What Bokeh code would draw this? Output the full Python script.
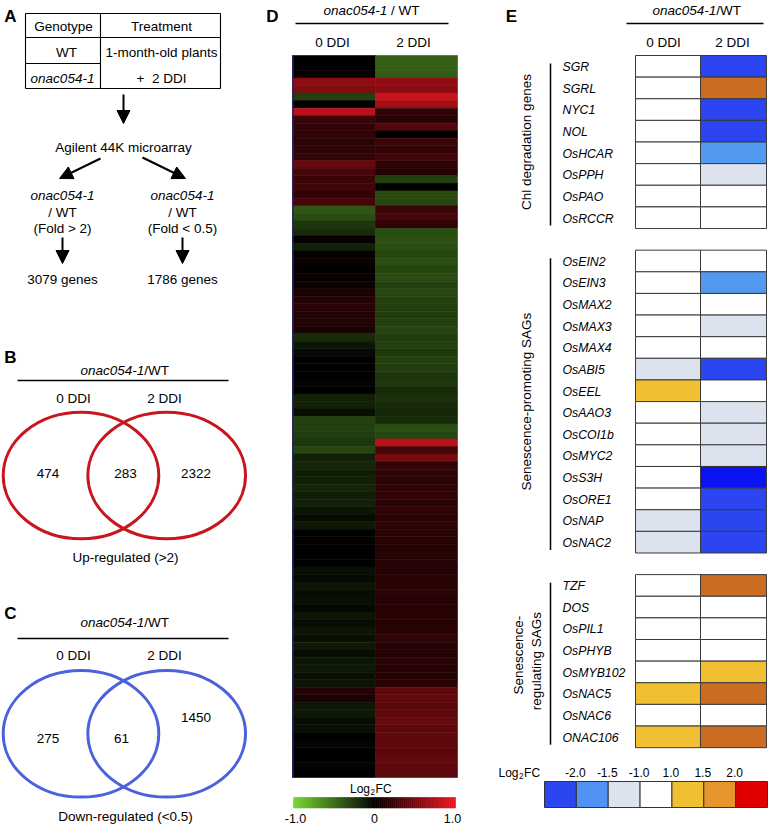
import numpy as np
from bokeh.plotting import figure
from bokeh.models import Range1d, Arrow, NormalHead, LinearColorMapper, ColumnDataSource
from bokeh.transform import transform
from bokeh.embed import file_html
from bokeh.resources import INLINE
from bokeh.core.properties import value

# ---------------- data ----------------
table_header = ["Genotype", "Treatment"]
genotypes = ["WT", "onac054-1"]
treatment = ["1-month-old plants", "+\u00a0 2 DDI"]
platform = "Agilent 44K microarray"
mutant = "onac054-1"
fold_rules = ["(Fold > 2)", "(Fold < 0.5)"]
selected_genes = [3079, 1786]
conditions = ["0 DDI", "2 DDI"]
venn_up = [474, 283, 2322]      # 0 DDI only, shared, 2 DDI only
venn_down = [275, 61, 1450]
venn_titles = ["Up-regulated (>2)", "Down-regulated (<0.5)"]

# Panel D: log2FC per gene cluster row (top to bottom)
heat_0ddi = [0.02, 0.0, 0.03, 0.6, 0.55, -0.3, 0.0, 0.8, 0.25, 0.2,
             0.22, 0.18, 0.2, 0.22, 0.45, 0.3, 0.25, 0.28, 0.22, 0.3,
             -0.4, -0.35, -0.25, -0.2, 0.02, -0.15, 0.03, 0.05, 0.0, 0.04,
             0.05, 0.12, 0.15, 0.18, 0.14, 0.16, 0.12, -0.2, -0.1, -0.05,
             0.0, 0.01, 0.0, -0.02, 0.0, -0.15, -0.15, -0.08, -0.3, -0.3,
             -0.28, -0.25, -0.32, -0.15, -0.18, -0.14, -0.15, -0.17, -0.14, -0.15,
             -0.1, -0.05, -0.12, 0.0, 0.02, 0.01, 0.02, 0.0, -0.08, -0.05,
             -0.1, -0.06, -0.08, -0.04, -0.1, -0.06, -0.1, -0.08, -0.12, -0.06,
             -0.1, -0.12, -0.08, -0.1, 0.15, 0.12, -0.1, -0.12, -0.06, -0.08,
             0.0, -0.03, 0.0, 0.01, -0.02, 0.0]
heat_2ddi = [-0.45, -0.45, -0.42, 0.6, 0.58, 0.85, 0.7, 0.2, 0.18, 0.35,
             0.02, 0.25, 0.22, 0.28, 0.2, 0.15, -0.3, 0.0, -0.35, -0.33,
             0.25, 0.3, 0.2, -0.35, -0.38, -0.35, -0.33, -0.36, -0.32, -0.35,
             -0.3, -0.33, -0.3, -0.3, -0.28, -0.3, -0.32, -0.28, -0.3, -0.27,
             -0.3, -0.28, -0.25, -0.27, -0.2, -0.22, -0.2, -0.18, -0.2, -0.35,
             -0.33, 0.8, 0.3, 0.5, 0.22, 0.2, 0.18, 0.2, 0.22, 0.18,
             0.2, 0.17, 0.2, 0.18, 0.17, 0.16, 0.18, 0.17, 0.15, 0.18,
             0.17, 0.19, 0.16, 0.17, 0.18, 0.16, 0.17, 0.2, 0.17, 0.16,
             0.18, 0.17, 0.16, 0.18, 0.4, 0.42, 0.38, 0.4, 0.43, 0.39,
             0.41, 0.4, 0.38, 0.42, 0.4, 0.39]
heat_ticks = [-1.0, 0.0, 1.0]
heat_tick_labels = ["-1.0", "0", "1.0"]

# Panel E
chl_genes = ["SGR", "SGRL", "NYC1", "NOL", "OsHCAR", "OsPPH", "OsPAO", "OsRCCR"]
chl_0ddi = [0.1, 0.2, -0.1, 0.0, -0.3, -0.2, 0.1, 0.0]
chl_2ddi = [-2.3, 1.8, -2.4, -2.3, -1.7, -1.2, -0.6, -0.4]

prom_genes = ["OsEIN2", "OsEIN3", "OsMAX2", "OsMAX3", "OsMAX4", "OsABI5", "OsEEL",
              "OsAAO3", "OsCOI1b", "OsMYC2", "OsS3H", "OsORE1", "OsNAP", "OsNAC2"]
prom_0ddi = [0.1, 0.0, 0.2, 0.1, -0.1, -1.1, 1.2, 0.2, -0.3, 0.1, -0.2, 0.0, -1.1, -1.2]
prom_2ddi = [-0.4, -1.7, -0.8, -1.2, -0.6, -2.3, 0.3, -1.3, -1.2, -1.1, -3.0, -2.4, -2.4, -2.3]

reg_genes = ["TZF", "DOS", "OsPIL1", "OsPHYB", "OsMYB102", "OsNAC5", "OsNAC6", "ONAC106"]
reg_0ddi = [0.2, 0.0, -0.2, 0.1, 0.4, 1.3, 0.3, 1.2]
reg_2ddi = [1.8, 0.3, 0.1, -0.3, 1.3, 1.8, 0.5, 1.9]

group_labels = [["Chl degradation genes"], ["Senescence-promoting SAGs"],
                ["Senescence-", "regulating SAGs"]]

fc_breaks = [-2.0, -1.5, -1.0, 1.0, 1.5, 2.0]
fc_break_labels = ["-2.0", "-1.5", "-1.0", "1.0", "1.5", "2.0"]

# ---------------- styling ----------------
legend_colors = ["#2b45f0", "#4f92f4", "#dde3ee", "#ffffff", "#f0c032", "#e5952b", "#e00000"]
cell_colors = ["#2b45f0", "#5299f0", "#dde3ee", "#ffffff", "#f0c032", "#cc6b22", "#e00000"]
DEEP_BLUE = "#0a14f2"
RED_V = "#c8161e"
BLUE_V = "#4b62dc"
S = 1.0
FONT = value("Liberation Sans")

p = figure(width=770, height=825, x_range=Range1d(0, 770), y_range=Range1d(825, 0),
           output_backend="svg", toolbar_location=None, min_border=0,
           x_axis_location=None, y_axis_location=None)
p.grid.visible = False
p.outline_line_color = None
p.background_fill_color = "white"
p.border_fill_color = "white"


def txt(x, y, s, size=13.5, align="center", style="normal", angle=0.0, color="black"):
    p.text(x=[x], y=[y], text=[s], text_font=FONT, text_font_size=f"{size * S:.2f}px",
           text_align=align, text_baseline="middle", text_font_style=style,
           angle=angle, text_color=color)


def seg(x0, y0, x1, y1, w=1.3, color="black"):
    p.segment(x0=[x0], y0=[y0], x1=[x1], y1=[y1], line_color=color, line_width=w)


def arrow(x0, y0, x1, y1):
    p.add_layout(Arrow(end=NormalHead(size=13, fill_color="black", line_color="black", line_width=1),
                       x_start=x0, y_start=y0, x_end=x1, y_end=y1,
                       line_color="black", line_width=2))


def mutant_over_wt(x_left, y, sep="/WT", gap=0.0, size=13.5):
    txt(x_left, y, mutant, size, align="left", style="italic")
    txt(x_left + 4.725 * size + gap, y, sep, size, align="left")


def log2fc(x_left, y, size=12):
    txt(x_left, y, "Log", size, align="left")
    txt(x_left + 1.668 * size + 0.5, y + 3.5, "2", size * 0.68, align="left")
    txt(x_left + 1.668 * size + 0.56 * size * 0.68 + 1.0, y, "FC", size, align="left")


# ---------------- Panel A ----------------
for lab, (lx, ly) in zip("ABCDE", [(10, 16), (10, 357), (10, 613), (272, 16), (511, 16)]):
    txt(lx, ly, lab, 17, style="bold")

tx0, tx1, tcol, ty0, ty1, thead, tsplit = 25, 220, 100, 13, 88, 37, 63
for a in [(tx0, ty0, tx1, ty0), (tx0, ty1, tx1, ty1), (tx0, ty0, tx0, ty1), (tx1, ty0, tx1, ty1),
          (tcol, ty0, tcol, ty1), (tx0, thead, tx1, thead), (tx0, tsplit, tcol, tsplit)]:
    seg(*a, w=1.1)
txt(63, 25.5, table_header[0])
txt(161, 25.5, table_header[1])
txt(66, 52, genotypes[0])
txt(62, 77.5, genotypes[1], style="italic")
txt(161, 52, treatment[0])
txt(161, 77.5, treatment[1])

arrow(123, 94, 123, 123)
txt(123, 147, platform)
arrow(100, 158, 59, 178)
arrow(142, 157, 185, 178)
for cx, rule, n in zip([62, 182], fold_rules, selected_genes):
    txt(cx, 195, mutant, style="italic")
    txt(cx, 211.5, "/ WT")
    txt(cx, 228, rule)
    arrow(cx, 237, cx, 263)
    txt(cx, 278.5, f"{n} genes")

# ---------------- Panels B & C (Venn) ----------------
for yc, head_y, line_y, cond_y, counts, col, title, title_y, cnt_y in [
        (475, 370, 380, 398, venn_up, RED_V, venn_titles[0], 557, [473, 473, 473]),
        (733.3, 622, 638, 655, venn_down, BLUE_V, venn_titles[1], 816, [738, 738, 717])]:
    mutant_over_wt(80, head_y)
    seg(17, line_y, 228, line_y, w=1.3)
    txt(73, cond_y, conditions[0])
    txt(164, cond_y, conditions[1])
    p.ellipse(x=[80.5, 166.2], y=[yc, yc], width=[155.6, 157.7], height=[126.6, 126.6],
              fill_color=None, line_color=col, line_width=3)
    for cx, cy, n in zip([47.5, 125 if counts[1] > 99 else 121, 195.5], cnt_y, counts):
        txt(cx, cy, str(n))
    txt(125, title_y, title)

# ---------------- Panel D (heatmap) ----------------
heat_pal = []
for t in np.linspace(-1, 1, 255):
    if t < 0:
        r, g, b = 118 * -t, 215 * -t, 50 * -t
    else:
        r, g, b = 235 * t, 22 * t, 32 * t
    heat_pal.append("#%02x%02x%02x" % (int(r), int(g), int(b)))
mapper = LinearColorMapper(palette=heat_pal, low=-1, high=1)

hx = [292, 375, 457]
hy0, hy1 = 55, 777
nrow = len(heat_0ddi)
rh = (hy1 - hy0) / nrow
L, R, T, B, V = [], [], [], [], []
for ci, col in enumerate([heat_0ddi, heat_2ddi]):
    for i, v in enumerate(col):
        L.append(hx[ci]); R.append(hx[ci + 1])
        T.append(hy0 + i * rh); B.append(hy0 + (i + 1) * rh); V.append(v)
hsrc = ColumnDataSource(dict(left=L, right=R, top=T, bottom=B, v=V))
p.quad(left="left", right="right", top="top", bottom="bottom", source=hsrc,
       fill_color=transform("v", mapper), line_color=transform("v", mapper), line_width=0.6)
seg(292.5, hy0, 292.5, hy1, w=1.5, color="#1c1c66")

mutant_over_wt(323, 10, sep="/ WT", gap=0.278 * 13.5)
seg(295, 23, 448, 23, w=1.3)
txt(332, 42, conditions[0])
txt(413, 42, conditions[1])

log2fc(349.5, 788)
cb_x0, cb_x1 = 293, 455
ramp = np.linspace(heat_ticks[0], heat_ticks[-1], 82)
rv = (ramp[:-1] + ramp[1:]) / 2
cb_edges = cb_x0 + (ramp - ramp[0]) / (ramp[-1] - ramp[0]) * (cb_x1 - cb_x0)
cbsrc = ColumnDataSource(dict(left=cb_edges[:-1], right=cb_edges[1:], v=rv))
p.quad(left="left", right="right", top=797, bottom=807.5, source=cbsrc,
       fill_color=transform("v", mapper), line_color=transform("v", mapper), line_width=0.6)
for tv, tl in zip(heat_ticks, heat_tick_labels):
    tx = cb_x0 + (tv - heat_ticks[0]) / (heat_ticks[-1] - heat_ticks[0]) * (cb_x1 - cb_x0)
    txt(tx + (2 if tv < 0 else (-3 if tv > 0 else 0)), 818, tl, 12.5)

# ---------------- Panel E ----------------
def fc_bin(v):
    return sum(v >= b for b in fc_breaks[:3]) + sum(v > b for b in fc_breaks[3:])


def cell_color(v):
    return DEEP_BLUE if v <= -2.8 else cell_colors[fc_bin(v)]


ex = [635, 700, 766]
ey0 = 55
erh = 21.63
cl, cr, ct, cb, cc = [], [], [], [], []
row = 0
for gi, (names, v0, v2) in enumerate([(chl_genes, chl_0ddi, chl_2ddi),
                                      (prom_genes, prom_0ddi, prom_2ddi),
                                      (reg_genes, reg_0ddi, reg_2ddi)]):
    start = row
    for name, a, b in zip(names, v0, v2):
        top = ey0 + row * erh
        for ci, v in enumerate([a, b]):
            cl.append(ex[ci]); cr.append(ex[ci + 1]); ct.append(top); cb.append(top + erh)
            cc.append(cell_color(v))
        txt(562, top + erh / 2 + 0.8, name, 12.3, align="left", style="italic")
        row += 1
    g_top, g_bot = ey0 + start * erh, ey0 + row * erh
    seg(550, g_top + 8, 550, g_bot - 3, w=1.5)
    labs = group_labels[gi]
    gmid = (g_top + g_bot) / 2
    if len(labs) == 1:
        txt(526, gmid, labs[0], 13.5, angle=np.pi / 2)
    else:
        txt(518, gmid - 6, labs[0], 13.5, angle=np.pi / 2)
        txt(535.5, gmid, labs[1], 13.5, angle=np.pi / 2)
    row += 1
p.quad(left=cl, right=cr, top=ct, bottom=cb, fill_color=cc, line_color="#3a3a3a", line_width=1)

mutant_over_wt(652, 10)
seg(626, 23, 763, 23, w=1.3)
txt(663, 42, conditions[0])
txt(732, 42, conditions[1])

log2fc(498, 772)
lx0, lx1 = 544, 767
nb = len(legend_colors)
lw = (lx1 - lx0) / nb
p.quad(left=[lx0 + k * lw for k in range(nb)], right=[lx0 + (k + 1) * lw for k in range(nb)],
       top=781, bottom=807, fill_color=legend_colors, line_color="#333333", line_width=1)
for k, lab in enumerate(fc_break_labels):
    txt(lx0 + (k + 1) * lw - 1, 772, lab, 12)

open("out.html", "w").write(file_html(p, INLINE))
